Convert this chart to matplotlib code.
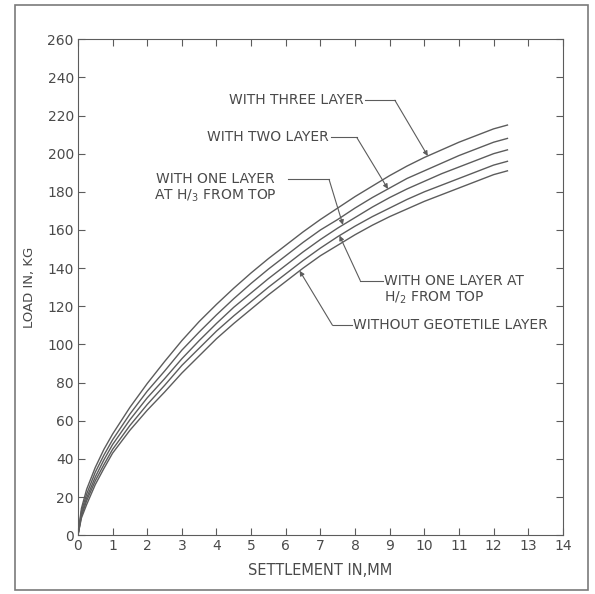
import numpy as np
import matplotlib
matplotlib.use("Agg")
import matplotlib.pyplot as plt
from matplotlib.patches import Rectangle

# settlement (mm) at which each curve was read
settlement = [0, 0.1, 0.25, 0.5, 0.75, 1, 1.5, 2, 2.5, 3, 3.5, 4, 4.5,
              5, 5.5, 6, 6.5, 7, 7.5, 8, 8.5, 9, 9.5, 10, 10.5, 11,
              11.5, 12, 12.4]

# load (kg)
three_layer = [0, 14, 24, 35.5, 45, 53, 67, 79.5, 91, 102, 112, 121, 129.5,
               137.5, 145, 152, 159, 165.5, 171.5, 177.5, 183, 188.5, 193.5,
               198, 202, 206, 209.5, 213, 215]
two_layer = [0, 12.5, 21.5, 33, 42, 50, 63.5, 75.5, 86, 97, 106.5, 115.5, 124,
             132, 139.5, 146.5, 153.5, 160, 165.5, 171.5, 177, 182, 187,
             191, 195, 199, 202.5, 206, 208]
one_layer_h3 = [0, 11, 19.5, 30.5, 39.5, 47.5, 60.5, 72, 82, 92.5, 102, 111,
                119.5, 127, 134.5, 141.5, 148.5, 155, 161, 166.5, 172, 177,
                181.5, 185.5, 189.5, 193, 196.5, 200, 202]
one_layer_h2 = [0, 10, 18, 28.5, 37, 45, 57.5, 68.5, 78.5, 89, 98, 107, 115,
                122.5, 130, 137, 144, 150.5, 156.5, 162, 167, 171.5, 176,
                180, 183.5, 187, 190.5, 194, 196]
no_layer = [0, 9, 16, 26.5, 35, 43, 55, 65.5, 75, 85, 94, 103, 111,
            118.5, 126, 133, 140, 146.5, 152, 157.5, 162.5, 167, 171,
            175, 178.5, 182, 185.5, 189, 191]

x_ticks = list(range(0, 15))
y_ticks = list(range(0, 261, 20))

LINE = "#5c5c5c"
TEXT = "#4a4a4a"

plt.rcParams['font.family'] = ['DejaVu Sans']

fig = plt.figure(figsize=(5.95, 5.94), dpi=100)
fig.patch.set_facecolor("white")
fig.patches.append(Rectangle((0.025, 0.006), 0.963, 0.986, transform=fig.transFigure,
                             fill=False, edgecolor="#7a7a7a", lw=1.2))

ax = fig.add_axes([0.131, 0.099, 0.815, 0.835])

for series in [three_layer, two_layer, one_layer_h3, one_layer_h2, no_layer]:
    ax.plot(settlement, series, color=LINE, lw=1.0)

ax.set_xlim(0, 14)
ax.set_ylim(0, 260)
ax.set_xticks(x_ticks)
ax.set_yticks(y_ticks)
ax.tick_params(direction="in", length=5, width=0.8, colors=LINE,
               labelcolor=TEXT, labelsize=10, top=True, right=True, pad=3)
for s in ax.spines.values():
    s.set_color(LINE)
    s.set_linewidth(0.8)

ax.set_xlabel("SETTLEMENT IN,MM", color=TEXT, fontsize=10.5, labelpad=7)
ax.set_ylabel("LOAD IN, KG", color=TEXT, fontsize=9.5, labelpad=8)


def leader(label_end, elbow_x, y, tip_x, series):
    # horizontal stub from the label, then a slanted arrow onto the curve
    tip_y = np.interp(tip_x, settlement, series)
    ax.plot([label_end, elbow_x], [y, y], color=LINE, lw=0.8)
    ax.annotate("", xy=(tip_x, tip_y), xytext=(elbow_x, y),
                arrowprops=dict(arrowstyle="-|>", color=LINE, lw=0.8,
                                mutation_scale=7, shrinkA=0, shrinkB=0))


txt = dict(color=TEXT, fontsize=10, va="center")

ax.text(8.25, 228, "WITH THREE LAYER", ha="right", **txt)
leader(8.3, 9.15, 228, 10.1, three_layer)

ax.text(7.25, 208.5, "WITH TWO LAYER", ha="right", **txt)
leader(7.3, 8.05, 208.5, 8.95, two_layer)

ax.text(2.25, 186.5, "WITH ONE LAYER", ha="left", **txt)
ax.text(2.2, 178, "AT H/$_3$ FROM TOP", ha="left", **txt)
leader(6.05, 7.25, 186.5, 7.65, one_layer_h3)

ax.text(8.85, 133.5, "WITH ONE LAYER AT", ha="left", **txt)
ax.text(8.85, 124.5, "H/$_2$ FROM TOP", ha="left", **txt)
leader(8.8, 8.15, 133.5, 7.55, one_layer_h2)

ax.text(7.95, 110, "WITHOUT GEOTETILE LAYER", ha="left", **txt)
leader(7.9, 7.35, 110, 6.4, no_layer)

fig.savefig("out.png", dpi=100, facecolor="white")
